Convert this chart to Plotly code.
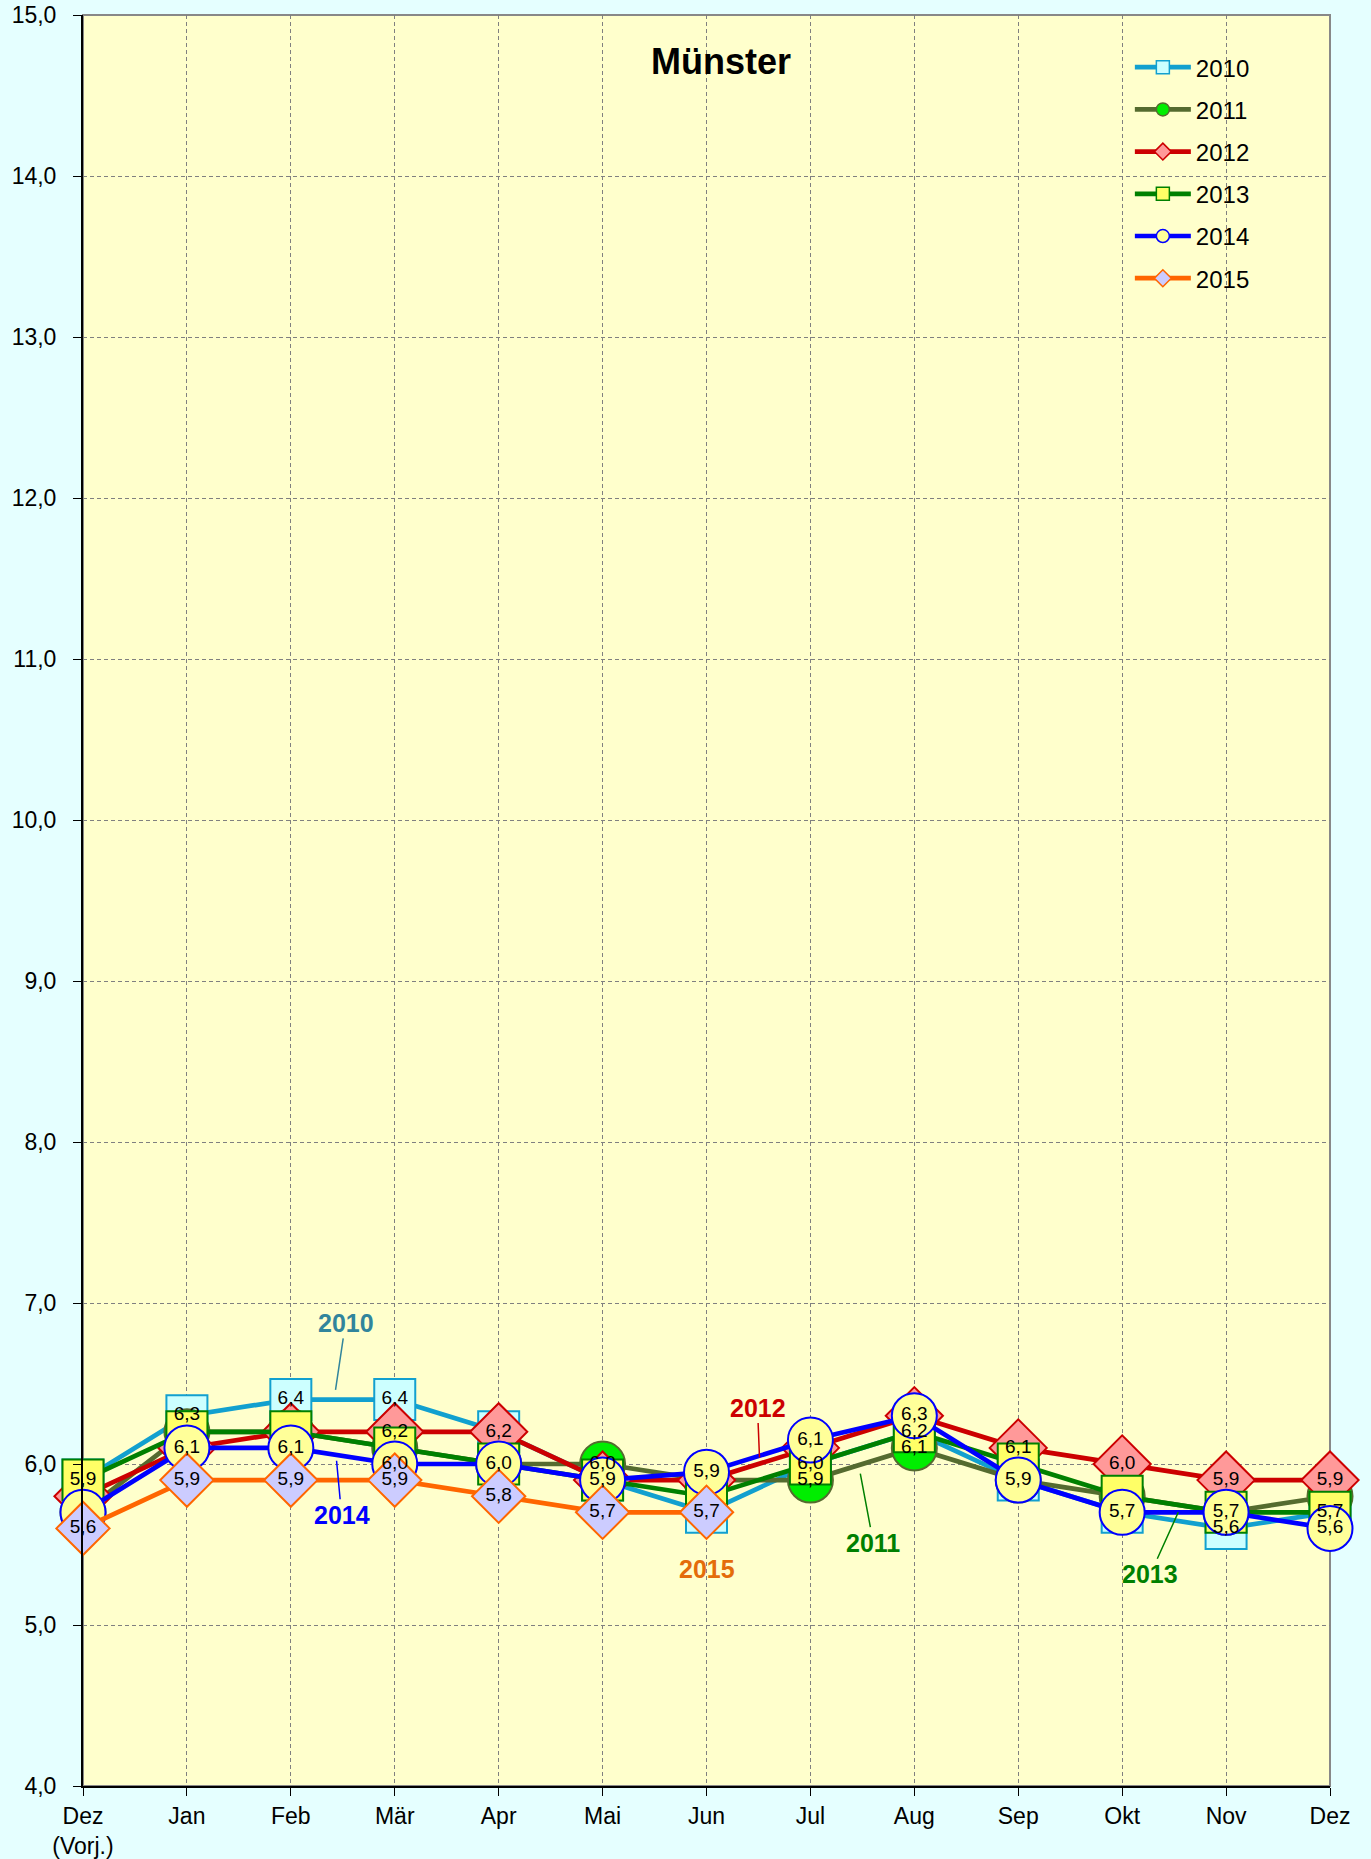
import plotly.graph_objects as go

# ---------------- data ----------------
categories = ["Dez<br>(Vorj.)", "Jan", "Feb", "Mär", "Apr", "Mai", "Jun",
              "Jul", "Aug", "Sep", "Okt", "Nov", "Dez"]
years = ["2010", "2011", "2012", "2013", "2014", "2015"]
y2010 = [5.9, 6.3, 6.4, 6.4, 6.2, 5.9, 5.7, 6.0, 6.2, 5.9, 5.7, 5.6, 5.7]
y2011 = [5.7, 6.2, 6.2, 6.1, 6.0, 6.0, 5.9, 5.9, 6.1, 5.9, 5.8, 5.7, 5.8]
y2012 = [5.8, 6.1, 6.2, 6.2, 6.2, 5.9, 5.9, 6.1, 6.3, 6.1, 6.0, 5.9, 5.9]
y2013 = [5.9, 6.2, 6.2, 6.1, 6.0, 5.9, 5.8, 6.0, 6.2, 6.0, 5.8, 5.7, 5.7]
y2014 = [5.7, 6.1, 6.1, 6.0, 6.0, 5.9, 5.949, 6.149, 6.3, 5.9, 5.7, 5.7, 5.6]
y2015 = [5.6, 5.9, 5.9, 5.9, 5.8, 5.7, 5.7]
y_ticks = [4, 5, 6, 7, 8, 9, 10, 11, 12, 13, 14, 15]

# which data labels are shown in the original (1 = shown)
show2010 = [0, 1, 1, 1, 0, 0, 0, 0, 0, 0, 0, 1, 0]
show2011 = [0, 0, 0, 0, 0, 1, 0, 1, 1, 0, 0, 0, 0]
show2012 = [0, 0, 0, 1, 1, 0, 0, 0, 0, 1, 1, 1, 1]
show2013 = [1, 0, 0, 0, 0, 0, 0, 1, 1, 0, 0, 0, 1]
show2014 = [0, 1, 1, 1, 1, 1, 1, 1, 1, 1, 1, 1, 1]
show2015 = [1, 1, 1, 1, 1, 1, 1]

series_values = [y2010, y2011, y2012, y2013, y2014, y2015]
series_show = [show2010, show2011, show2012, show2013, show2014, show2015]

# ---------------- styles ----------------
FONT = "Liberation Sans, Arial, sans-serif"
PAPER = "#E5FFFF"
styles = [
    dict(line="#12A0CF", fill="#CCFFFF", border="#12A0CF", symbol="square", size=41),
    dict(line="#556B2F", fill="#00EE00", border="#556B2F", symbol="circle", size=45),
    dict(line="#CC0000", fill="#FF9999", border="#CC0000", symbol="diamond", size=44),
    dict(line="#008000", fill="#FFFF66", border="#008000", symbol="square", size=41),
    dict(line="#0000FF", fill="#FFFF99", border="#0000FF", symbol="circle", size=45),
    dict(line="#FF6600", fill="#CCCCFF", border="#FF6600", symbol="diamond", size=41),
]

fig = go.Figure()
x_idx = list(range(len(categories)))

# lines + markers
for name, vals, st in zip(years, series_values, styles):
    fig.add_trace(go.Scatter(
        x=x_idx[:len(vals)], y=vals, name=name, showlegend=False,
        mode="lines+markers",
        line=dict(color=st["line"], width=4.7),
        marker=dict(symbol=st["symbol"], size=st["size"], color=st["fill"],
                    line=dict(color=st["border"], width=2)),
        cliponaxis=False, hoverinfo="skip",
    ))

# data labels on top of all markers
for name, vals, show in zip(years, series_values, series_show):
    txt = [("%.1f" % v).replace(".", ",") if s else "" for v, s in zip(vals, show)]
    fig.add_trace(go.Scatter(
        x=x_idx[:len(vals)], y=vals, name=name, showlegend=False,
        mode="text", text=txt, textposition="middle center",
        textfont=dict(family=FONT, size=19, color="black"),
        cliponaxis=False, hoverinfo="skip",
    ))

# legend-only entries
for name, st in zip(years, styles):
    fig.add_trace(go.Scatter(
        x=[None], y=[None], name=name, legendgroup=name, mode="lines+markers",
        line=dict(color=st["line"], width=4.7),
        marker=dict(symbol=st["symbol"], size=13, color=st["fill"],
                    line=dict(color=st["border"], width=1.5)),
    ))

# series labels
labels = [
    dict(text="2010", x=2.43, y=6.46, ax=10, ay=-67, color="#31859C", arrow=True),
    dict(text="2014", x=2.44, y=6.02, ax=5, ay=54, color="#0000FF", arrow=True),
    dict(text="2012", x=6.51, y=6.04, ax=-2, ay=-50, color="#CC0000", arrow=True),
    dict(text="2015", x=6.0, y=5.35, ax=0, ay=0, color="#E46C0A", arrow=False),
    dict(text="2011", x=7.48, y=5.94, ax=13, ay=69, color="#008000", arrow=True),
    dict(text="2013", x=10.54, y=5.70, ax=-28, ay=62, color="#008000", arrow=True),
]
for lb in labels:
    fig.add_annotation(
        text="<b>%s</b>" % lb["text"], x=lb["x"], y=lb["y"], xref="x", yref="y",
        showarrow=lb["arrow"], ax=lb["ax"], ay=lb["ay"], arrowhead=0,
        arrowwidth=1.5, arrowcolor=lb["color"], standoff=0,
        font=dict(family=FONT, size=25, color=lb["color"]),
    )

# title
fig.add_annotation(
    text="<b>Münster</b>", x=0.512, y=0.9735, xref="paper", yref="paper",
    xanchor="center", yanchor="middle",
    showarrow=False, font=dict(family=FONT, size=36, color="black"),
)

# frame (top/right gray)
fig.add_shape(type="rect", xref="paper", yref="paper", x0=0, x1=1, y0=0, y1=1,
              line=dict(color="#888888", width=2), layer="below")

grid = dict(showgrid=True, gridcolor="#808080", gridwidth=1, griddash="4px,3px",
            showline=True, linecolor="black", linewidth=2, ticks="outside",
            ticklen=8, tickcolor="black", tickwidth=1, zeroline=False,
            automargin=False,
            tickfont=dict(family=FONT, size=23, color="black"))

fig.update_xaxes(range=[0, 12], tickmode="array", tickvals=x_idx, ticktext=categories, **grid)
fig.update_yaxes(range=[4, 15], tickmode="array", tickvals=y_ticks, tickformat=".1f",
                 ticklabelstandoff=12, **grid)

fig.update_layout(
    width=1371, height=1859,
    margin=dict(l=83, r=41, t=15, b=73),
    paper_bgcolor=PAPER, plot_bgcolor="#FFFFCC",
    separators=",.",
    font=dict(family=FONT, size=23, color="black"),
    legend=dict(x=0.8395, y=0.983, xanchor="left", yanchor="top",
                bgcolor="rgba(0,0,0,0)", tracegroupgap=8, itemwidth=56,
                font=dict(family=FONT, size=24, color="black")),
)

fig.write_html(
    "out.html",
    config={"displayModeBar": False},
    post_script="document.body.style.margin='0px';"
                "document.body.style.background='%s';" % PAPER,
)
